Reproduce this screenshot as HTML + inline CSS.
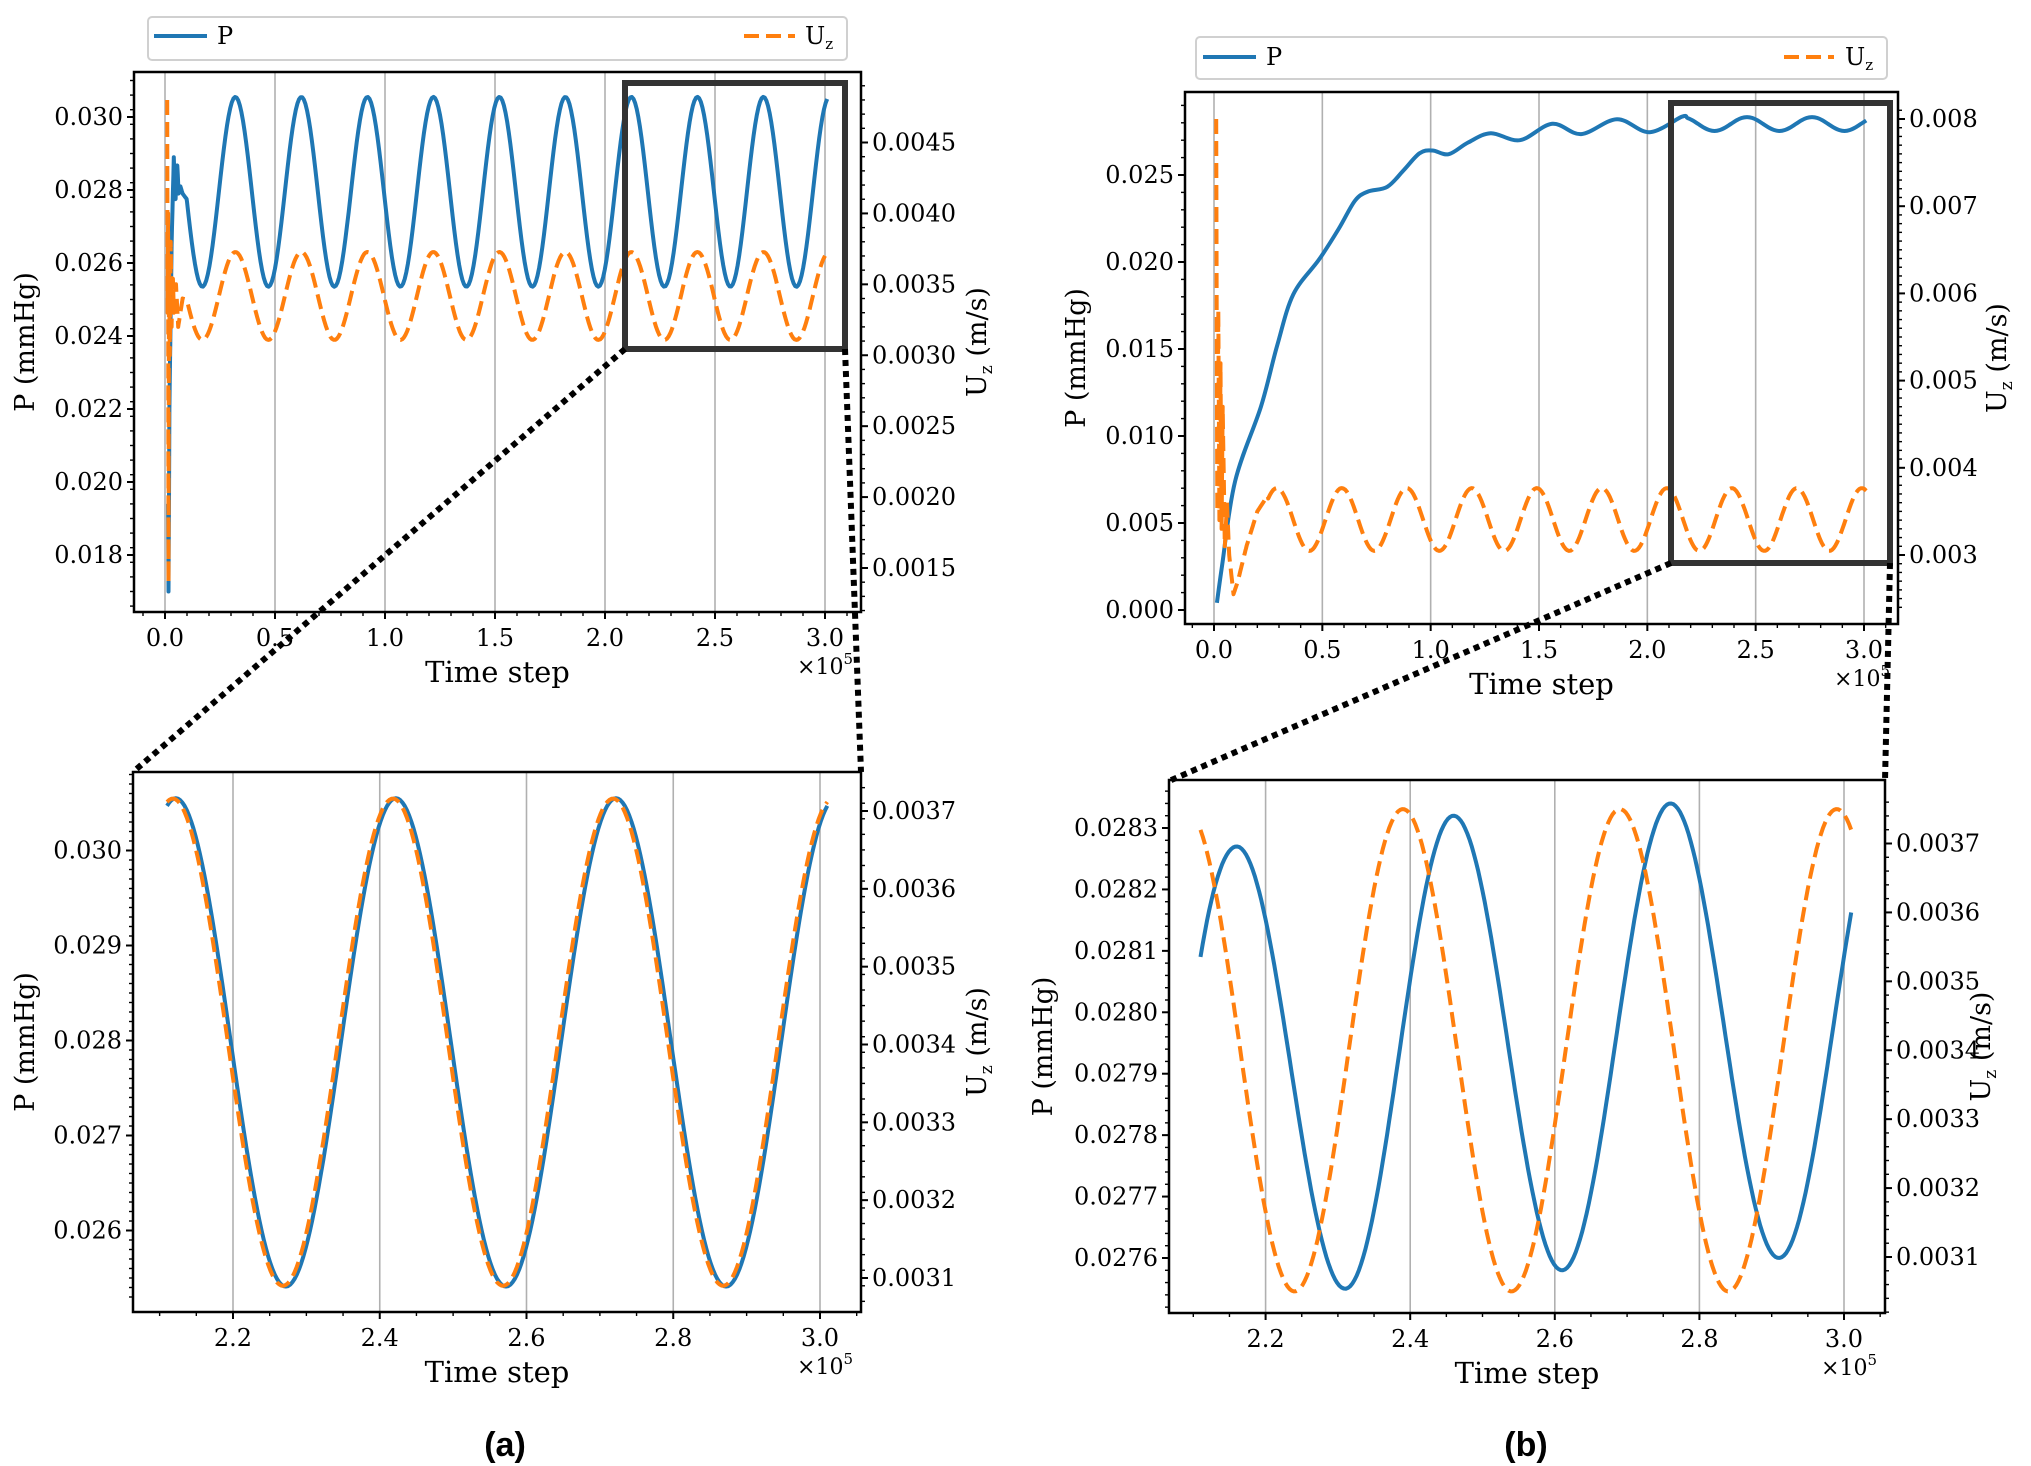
<!DOCTYPE html>
<html><head><meta charset="utf-8">
<style>
html,body{margin:0;padding:0;background:#fff;}
svg{display:block;}
text{font-family:"DejaVu Serif","Liberation Serif",serif;fill:#000;}
</style></head>
<body>
<svg id="s" width="2031" height="1466" viewBox="0 0 2031 1466" xmlns="http://www.w3.org/2000/svg"></svg>
<script>
const S=document.getElementById('s');
let out='';
const BLUE='#1f77b4',OR='#ff7f0e';
function lin(a,b,c,d){return v=>c+(v-a)*(d-c)/(b-a);}
function fmt(v,d){return v.toFixed(d);}
function panel(o){
  const {L,R,T,B}=o;
  o.xt.forEach(t=>{const x=o.X(t);out+=`<line x1="${x}" y1="${T}" x2="${x}" y2="${B}" stroke="#b0b0b0" stroke-width="1.6"/>`;});
  o.curves.forEach(c=>out+=c);
  out+=`<rect x="${L}" y="${T}" width="${R-L}" height="${B-T}" fill="none" stroke="#000" stroke-width="2.5"/>`;
  o.xt.forEach(t=>{const x=o.X(t);out+=`<line x1="${x}" y1="${B}" x2="${x}" y2="${B+7}" stroke="#000" stroke-width="2"/>`;
    out+=`<text x="${x}" y="${B+34}" font-size="24" text-anchor="middle">${fmt(t,1)}</text>`;});
  for(let t=o.xmin;t<=o.xmax+1e-9;t+=o.xminor){const x=o.X(t);if(x<L||x>R)continue;out+=`<line x1="${x}" y1="${B}" x2="${x}" y2="${B+4}" stroke="#000" stroke-width="1.4"/>`;}
  o.yl.forEach(v=>{const y=o.YL(v);out+=`<line x1="${L}" y1="${y}" x2="${L-7}" y2="${y}" stroke="#000" stroke-width="2"/>`;
    out+=`<text x="${L-11}" y="${y+8}" font-size="24" text-anchor="end">${fmt(v,o.ld)}</text>`;});
  for(let v=o.ylmin;v<=o.ylmax;v+=o.ylminor){const y=o.YL(v);if(y<T||y>B)continue;out+=`<line x1="${L}" y1="${y}" x2="${L-4}" y2="${y}" stroke="#000" stroke-width="1.4"/>`;}
  o.yr.forEach(v=>{const y=o.YR(v);out+=`<line x1="${R}" y1="${y}" x2="${R+7}" y2="${y}" stroke="#000" stroke-width="2"/>`;
    out+=`<text x="${R+11}" y="${y+8}" font-size="24">${fmt(v,o.rd)}</text>`;});
  for(let v=o.yrmin;v<=o.yrmax;v+=o.yrminor){const y=o.YR(v);if(y<T||y>B)continue;out+=`<line x1="${R}" y1="${y}" x2="${R+4}" y2="${y}" stroke="#000" stroke-width="1.4"/>`;}
  out+=`<text x="${(L+R)/2}" y="${B+70}" font-size="29" text-anchor="middle">Time step</text>`;
  out+=`<text x="${R-8}" y="${B+62}" font-size="22" text-anchor="end">×10<tspan font-size="15" dy="-10">5</tspan></text>`;
  const cy=(T+B)/2;
  out+=`<text transform="translate(${o.llx},${cy}) rotate(-90)" font-size="27" text-anchor="middle">P (mmHg)</text>`;
  out+=`<text transform="translate(${o.rlx},${cy}) rotate(-90)" font-size="27" text-anchor="middle">U<tspan font-size="17" dy="6">z</tspan><tspan dy="-6"> (m/s)</tspan></text>`;
}
function path(pts,col,dash){
  let d='M'+pts.map(p=>p[0].toFixed(1)+','+p[1].toFixed(1)).join(' L');
  return `<path d="${d}" fill="none" stroke="${col}" stroke-width="4" stroke-linejoin="round" ${dash?'stroke-dasharray="15,7"':''}/>`;
}
function spline(p,col){
  let d=`M${p[0][0].toFixed(1)},${p[0][1].toFixed(1)}`;
  for(let i=0;i<p.length-1;i++){
    const p0=p[Math.max(0,i-1)],p1=p[i],p2=p[i+1],p3=p[Math.min(p.length-1,i+2)];
    const c1=[p1[0]+(p2[0]-p0[0])/6,p1[1]+(p2[1]-p0[1])/6],c2=[p2[0]-(p3[0]-p1[0])/6,p2[1]-(p3[1]-p1[1])/6];
    d+=` C${c1[0].toFixed(1)},${c1[1].toFixed(1)} ${c2[0].toFixed(1)},${c2[1].toFixed(1)} ${p2[0].toFixed(1)},${p2[1].toFixed(1)}`;
  }
  return `<path d="${d}" fill="none" stroke="${col}" stroke-width="4" stroke-linejoin="round"/>`;
}
function interp(list,t){
  for(let i=0;i<list.length-1;i++){if(t>=list[i][0]&&t<=list[i+1][0]){const f=(t-list[i][0])/(list[i+1][0]-list[i][0]);return list[i][1]+f*(list[i+1][1]-list[i][1]);}}
  return list[list.length-1][1];
}
function gen(t0,t1,n,f,X,Y){const a=[];for(let i=0;i<=n;i++){const t=t0+(t1-t0)*i/n;a.push([X(t),Y(f(t))]);}return a;}
const cs=(t,p,c)=>Math.cos(2*Math.PI*(t-c)/p);

// ===== Panel a top =====
{
 const X=lin(0,3,165,825), YL=lin(0.030,0.018,117,555), YR=lin(0.0045,0.0015,142.5,568);
 const Pt=[[0.014,0.0194],[0.016,0.017],[0.02,0.022],[0.03,0.0265],[0.04,0.0289],[0.047,0.0276],[0.055,0.0288],[0.062,0.0279],[0.07,0.0281],[0.08,0.0279],[0.1,0.02774]];
 const Pf=t=>t<0.1?interp(Pt,t):0.02795+0.0026*cs(t,0.3,0.32);
 const Ut=[[0.010,0.0048],[0.012,0.0033],[0.014,0.0040],[0.016,0.0014],[0.018,0.0037],[0.022,0.0030],[0.026,0.0038],[0.03,0.0032],[0.035,0.0036],[0.04,0.0033],[0.05,0.0035],[0.06,0.0032],[0.08,0.0034],[0.1,0.00339]];
 const Uf=t=>t<0.1?interp(Ut,t):0.003418+0.00031*cs(t,0.3,0.32);
 const p1=[];for(let t=0.014;t<0.1;t+=0.002)p1.push([X(t),YL(Pf(t))]);
 const u1=[];for(let t=0.01;t<0.1;t+=0.002)u1.push([X(t),YR(Uf(t))]);
 panel({L:134,R:861,T:72,B:612,X,YL,YR,xt:[0,0.5,1,1.5,2,2.5,3],xmin:-0.1,xmax:3.2,xminor:0.1,
  yl:[0.018,0.020,0.022,0.024,0.026,0.028,0.030],ld:3,ylmin:0.0166,ylmax:0.0312,ylminor:0.0004,
  yr:[0.0015,0.0020,0.0025,0.0030,0.0035,0.0040,0.0045],rd:4,yrmin:0.0012,yrmax:0.0049,yrminor:0.0001,
  llx:34,rlx:986,
  curves:[path(p1.concat(gen(0.1,3.01,400,Pf,X,YL)),BLUE),path(u1.concat(gen(0.1,3.0,400,Uf,X,YR)),OR,true)]});
 out+=`<rect x="148" y="17" width="699" height="43" rx="4" fill="#fff" stroke="#d0d0d0" stroke-width="2"/>`;
 out+=`<line x1="154" y1="36" x2="207" y2="36" stroke="${BLUE}" stroke-width="4"/><text x="217" y="44" font-size="24">P</text>`;
 out+=`<line x1="744" y1="36" x2="795" y2="36" stroke="${OR}" stroke-width="4" stroke-dasharray="15,7"/><text x="805" y="44" font-size="24">U<tspan font-size="15" dy="5">z</tspan></text>`;
 out+=`<rect x="625" y="83" width="220" height="266" fill="none" stroke="#333" stroke-width="6"/>`;
}
// ===== Panel a bottom =====
{
 const X=lin(2.2,3.0,233,820), YL=lin(0.030,0.026,850.5,1230.5), YR=lin(0.0037,0.0031,811,1278);
 panel({L:133,R:861,T:772,B:1312,X,YL,YR,xt:[2.2,2.4,2.6,2.8,3.0],xmin:2.1,xmax:3.06,xminor:0.05,
  yl:[0.026,0.027,0.028,0.029,0.030],ld:3,ylmin:0.0253,ylmax:0.0308,ylminor:0.0001,
  yr:[0.0031,0.0032,0.0033,0.0034,0.0035,0.0036,0.0037],rd:4,yrmin:0.00305,yrmax:0.00375,yrminor:0.00002,
  llx:34,rlx:986,
  curves:[path(gen(2.11,3.01,300,t=>0.02798+0.00257*cs(t,0.3,2.422),X,YL),BLUE),
          path(gen(2.11,3.01,300,t=>0.003403+0.000313*cs(t,0.3,2.418),X,YR),OR,true)]});
}
// ===== Panel b top =====
{
 const X=lin(0,3,1214,1864), YL=lin(0.025,0,175,610), YR=lin(0.008,0.003,119,555);
 const zp=[[312,1290],[320,1210],[340,1030],[380,870],[405,740],[430,630],[470,555],[500,490],[525,430],[545,410],[575,400],[600,365],[625,328],[645,322],[670,330],[700,305],[735,285],[780,300],[830,265],[875,287],[930,255],[980,283],[1030,250]];
 const pts=zp.map(([x,y])=>[1015+x/1.545,y/2.14]);
 for(let t=2.185;t<=3.011;t+=0.025){pts.push([X(t),YL(0.02793+0.0004*cs(t,0.3,2.16))]);}
 const Ut=[[0.01,0.0080],[0.015,0.0035],[0.02,0.0058],[0.025,0.0034],[0.03,0.0052],[0.035,0.0033],[0.04,0.0047],[0.05,0.0031],[0.06,0.0036],[0.07,0.0030],[0.09,0.00255],[0.11,0.0027],[0.15,0.0031],[0.2,0.0035],[0.25,0.00369]];
 const Uf=t=>t<0.25?interp(Ut,t):0.003407+0.00036*cs(t,0.3,0.29);
 const u1=[];for(let t=0.01;t<0.25;t+=0.0025)u1.push([X(t),YR(Uf(t))]);
 panel({L:1185,R:1898,T:92,B:624,X,YL,YR,xt:[0,0.5,1,1.5,2,2.5,3],xmin:-0.1,xmax:3.2,xminor:0.1,
  yl:[0,0.005,0.010,0.015,0.020,0.025],ld:3,ylmin:0,ylmax:0.0295,ylminor:0.001,
  yr:[0.003,0.004,0.005,0.006,0.007,0.008],rd:3,yrmin:0.0024,yrmax:0.0082,yrminor:0.0001,
  llx:1085,rlx:2006,
  curves:[spline(pts,BLUE),path(u1.concat(gen(0.25,3.01,350,Uf,X,YR)),OR,true)]});
 out+=`<rect x="1196" y="37" width="691" height="42" rx="4" fill="#fff" stroke="#d0d0d0" stroke-width="2"/>`;
 out+=`<line x1="1203" y1="57" x2="1256" y2="57" stroke="${BLUE}" stroke-width="4"/><text x="1266" y="65" font-size="24">P</text>`;
 out+=`<line x1="1784" y1="57" x2="1834" y2="57" stroke="${OR}" stroke-width="4" stroke-dasharray="15,7"/><text x="1845" y="65" font-size="24">U<tspan font-size="15" dy="5">z</tspan></text>`;
 out+=`<rect x="1671" y="103" width="219" height="460" fill="none" stroke="#333" stroke-width="6"/>`;
}
// ===== Panel b bottom =====
{
 const X=lin(2.2,3.0,1265.6,1844), YL=lin(0.0283,0.0276,828,1258), YR=lin(0.0037,0.0031,843.5,1257);
 const Pc=[[2.11,0.02809],[2.16,0.02827],[2.31,0.02755],[2.46,0.02832],[2.61,0.02758],[2.76,0.02834],[2.91,0.02760],[3.06,0.02835]];
 const Pf=t=>{for(let i=0;i<Pc.length-1;i++){const a=Pc[i],b=Pc[i+1];if(t>=a[0]&&t<=b[0]){if(i==0){return 0.02827-0.00018*Math.pow((2.16-t)/0.05,2)*0.999;}const f=(t-a[0])/(b[0]-a[0]);return a[1]+(b[1]-a[1])*(1-Math.cos(Math.PI*f))/2;}}return 0.0282;};
 const Uf=t=>0.0034+0.00035*cs(t,0.3,2.39);
 panel({L:1169,R:1885,T:780,B:1313,X,YL,YR,xt:[2.2,2.4,2.6,2.8,3.0],xmin:2.1,xmax:3.06,xminor:0.05,
  yl:[0.0276,0.0277,0.0278,0.0279,0.0280,0.0281,0.0282,0.0283],ld:4,ylmin:0.02752,ylmax:0.02838,ylminor:0.00002,
  yr:[0.0031,0.0032,0.0033,0.0034,0.0035,0.0036,0.0037],rd:4,yrmin:0.00302,yrmax:0.00378,yrminor:0.00002,
  llx:1052,rlx:1990,
  curves:[path(gen(2.11,3.01,300,Pf,X,YL),BLUE),path(gen(2.11,3.01,300,Uf,X,YR),OR,true)]});
}
const dl=(x1,y1,x2,y2)=>out+=`<line x1="${x1}" y1="${y1}" x2="${x2}" y2="${y2}" stroke="#000" stroke-width="6" stroke-dasharray="6,5"/>`;
dl(625,349,133,772);dl(845,349,861,772);dl(1671,563,1169,781);dl(1890,563,1885,781);
out+=`<text x="505" y="1456" font-size="34" font-weight="bold" text-anchor="middle" style="font-family:'Liberation Sans',sans-serif">(a)</text>`;
out+=`<text x="1526" y="1456" font-size="34" font-weight="bold" text-anchor="middle" style="font-family:'Liberation Sans',sans-serif">(b)</text>`;
S.innerHTML=out;
</script>
</body></html>
